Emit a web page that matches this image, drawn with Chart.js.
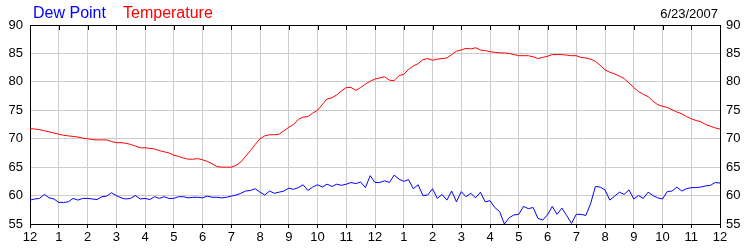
<!DOCTYPE html>
<html>
<head>
<meta charset="utf-8">
<script src="https://cdn.jsdelivr.net/npm/chart.js@4/dist/chart.umd.min.js"></script>
<style>
  html, body { margin: 0; padding: 0; background: #fff; }
  #wrap { position: relative; width: 750px; height: 250px; }
</style>
</head>
<body>
<div id="wrap"><canvas id="c" width="750" height="250"></canvas></div>
<script>
// ---- data (10-minute readings from 12 AM to 12 AM) ----
const seriesNames = ['Dew Point', 'Temperature'];
const dateLabel = '6/23/2007';
const hourTickLabels = ['12','1','2','3','4','5','6','7','8','9','10','11','12','1','2','3','4','5','6','7','8','9','10','11','12'];
const yTicks = [55, 60, 65, 70, 75, 80, 85, 90];

const temperature = [
71.8,71.7,71.6,71.4,71.2,71.0,70.8,70.6,70.5,70.4,70.3,70.1,
70.0,69.85,69.8,69.8,69.8,69.5,69.3,69.3,69.2,69.0,68.7,68.4,
68.4,68.3,68.2,67.9,67.7,67.5,67.1,66.9,66.6,66.4,66.4,66.5,
66.3,66.0,65.6,65.1,65.0,65.0,65.0,65.3,65.9,66.9,67.9,69.0,
70.0,70.5,70.7,70.7,70.8,71.4,72.0,72.5,73.4,73.8,73.9,74.5,
75.0,76.0,77.0,77.2,77.7,78.4,79.0,79.0,78.5,79.0,79.6,80.1,
80.5,80.7,80.9,80.3,80.2,81.1,81.3,82.2,82.8,83.2,83.9,84.1,
83.8,84.0,84.1,84.2,84.8,85.4,85.6,85.9,85.8,86.0,85.6,85.5,
85.3,85.2,85.1,85.1,85.0,84.8,84.6,84.6,84.6,84.4,84.1,84.3,
84.5,84.8,84.8,84.8,84.7,84.6,84.6,84.3,84.2,84.0,83.6,82.9,
82.1,81.7,81.4,81.0,80.6,79.8,79.0,78.3,77.8,77.4,76.6,76.0,
75.7,75.5,75.1,74.7,74.4,73.9,73.5,73.2,73.0,72.5,72.2,71.9,
71.7
];

const dewPoint = [
59.2,59.4,59.5,60.2,59.6,59.4,58.8,58.8,58.9,59.5,59.2,59.5,
59.5,59.4,59.3,59.8,59.9,60.5,60.0,59.6,59.4,59.5,60.0,59.4,
59.5,59.3,59.8,59.5,59.8,59.5,59.5,59.8,59.8,59.6,59.7,59.7,
59.6,59.9,59.7,59.7,59.6,59.7,59.9,60.1,60.4,60.8,60.9,61.2,
60.6,60.1,60.8,60.4,60.6,60.8,61.3,61.1,61.4,61.9,60.9,61.5,
61.9,61.5,62.0,61.6,62.0,61.8,62.0,62.3,62.1,62.4,61.4,63.5,
62.3,62.3,62.6,62.3,63.6,62.9,62.5,62.8,61.2,61.9,60.0,60.1,
61.2,59.5,60.2,59.2,60.8,58.9,60.7,59.8,60.4,59.6,60.6,58.9,
59.1,57.9,57.2,55.0,56.1,56.6,56.7,58.1,57.7,57.9,56.0,55.7,
56.6,58.1,56.7,57.8,56.5,55.1,56.7,56.7,56.5,58.6,61.6,61.5,
61.0,59.2,59.9,60.6,60.2,61.0,59.4,60.0,59.5,60.6,60.0,59.6,
59.4,60.7,60.8,61.5,60.8,61.2,61.4,61.4,61.5,61.7,61.8,62.3,
62.2
];

const stepHours = 10 / 60;
const toPoints = arr => arr.map((v, i) => ({ x: i * stepHours, y: v }));

const FONT = "'Liberation Sans', Arial, sans-serif";

const framePlugin = {
  id: 'frame',
  afterDatasetsDraw(chart) {
    const { ctx, chartArea: a, scales } = chart;
    ctx.save();
    ctx.strokeStyle = '#000';
    ctx.lineWidth = 1;
    ctx.beginPath();
    ctx.moveTo(a.left, a.top + 0.5);
    ctx.lineTo(a.right + 1, a.top + 0.5);
    for (let h = 0; h < hourTickLabels.length; h++) {
      const px = Math.round(scales.x.getPixelForValue(h)) + 0.5;
      ctx.moveTo(px, a.top);
      ctx.lineTo(px, a.top + 5);
    }
    ctx.stroke();
    ctx.restore();
  },
  afterDraw(chart) {
    const { ctx } = chart;
    ctx.save();
    ctx.textBaseline = 'alphabetic';
    ctx.font = '16px ' + FONT;
    ctx.textAlign = 'left';
    ctx.fillStyle = '#0000ff';
    ctx.fillText(seriesNames[0], 33, 18);
    ctx.fillStyle = '#ff0000';
    ctx.fillText(seriesNames[1], 123, 18);
    ctx.font = '13px ' + FONT;
    ctx.fillStyle = '#000';
    ctx.textAlign = 'right';
    ctx.fillText(dateLabel, 718, 18);
    ctx.restore();
  }
};

new Chart(document.getElementById('c'), {
  type: 'line',
  data: {
    datasets: [
      { label: seriesNames[1], data: toPoints(temperature), borderColor: '#ff0000', borderWidth: 1, pointRadius: 0, tension: 0 },
      { label: seriesNames[0], data: toPoints(dewPoint), borderColor: '#0000ff', borderWidth: 1, pointRadius: 0, tension: 0 }
    ]
  },
  options: {
    responsive: false,
    animation: false,
    devicePixelRatio: 1,
    layout: { padding: { top: 25, left: 0, right: 0, bottom: 0 } },
    plugins: { legend: { display: false }, title: { display: false }, tooltip: { enabled: false } },
    scales: {
      x: {
        type: 'linear', min: 0, max: 24,
        afterFit(s) { s.height = 26; },
        border: { color: '#000', width: 1 },
        grid: { color: '#cccccc', tickColor: '#000', tickLength: 4, drawTicks: true },
        ticks: {
          stepSize: 1, autoSkip: false, maxTicksLimit: 30, maxRotation: 0, padding: 2,
          color: '#000', font: { family: FONT, size: 13 },
          callback: v => hourTickLabels[v]
        }
      },
      y: {
        position: 'left', min: 55, max: 90,
        afterFit(s) { s.width = 30; },
        afterBuildTicks(s) { s.ticks = yTicks.map(v => ({ value: v })); },
        border: { color: '#000', width: 1 },
        grid: { color: '#cccccc', drawTicks: false },
        ticks: { padding: 7, color: '#000', font: { family: FONT, size: 13 } }
      },
      y2: {
        position: 'right', min: 55, max: 90,
        afterFit(s) { s.width = 30; },
        afterBuildTicks(s) { s.ticks = yTicks.map(v => ({ value: v })); },
        border: { color: '#000', width: 1 },
        grid: { drawOnChartArea: false, drawTicks: false },
        ticks: { padding: 6, color: '#000', font: { family: FONT, size: 13 } }
      }
    }
  },
  plugins: [framePlugin]
});
</script>
</body>
</html>
